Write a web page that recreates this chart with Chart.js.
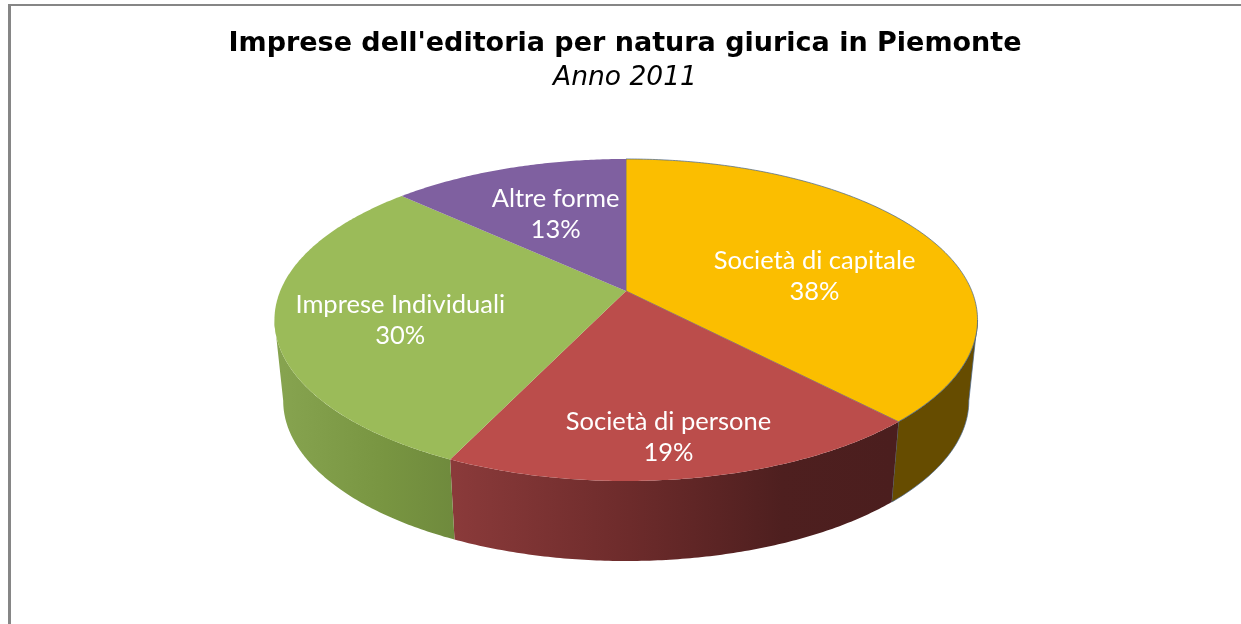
<!DOCTYPE html>
<html>
<head>
<meta charset="utf-8">
<title>Imprese dell'editoria per natura giurica in Piemonte</title>
<script src="https://cdn.jsdelivr.net/npm/chart.js@4"></script>
<style>
  html, body { margin: 0; padding: 0; background: #fff; }
  #wrap { width: 1241px; height: 624px; }
</style>
</head>
<body>
<div id="wrap"><canvas id="pie" width="1241" height="624"></canvas></div>
<script>
var categories = ["Società di capitale", "Società di persone", "Imprese Individuali", "Altre forme"];
var shares = [38, 19, 30, 13];

var topColors = ["#fbbe00", "#bb4d4b", "#9bbb59", "#7f60a0"];
// horizontal shading of the rim, one list of [position, colour] per slice
var wallStops = [
    [[0, "#664c00"], [1, "#664c00"]],
    [[0, "#8a3a3a"], [0.4, "#6d2b2b"], [0.75, "#4e1f1f"], [1, "#4b1e1e"]],
    [[0, "#86a34f"], [0.6, "#789541"], [1, "#6f8a3d"]],
    [[0, "#5f4878"], [1, "#5f4878"]]
];
var labelRadius = [0.6, 0.8, 0.65, 0.56];
var labelShiftX = [3, -8, 0, 0];
var labelShiftY = [19, 3, 10, -3];

// tilted disc: a small perspective term pushes the centre above the middle of the ellipse
var cx = 626, persp = -0.18;
var topRim = { cy: 291, ax: 345.8, ay: 155.8 };
var lowRim = { cy: 372, ax: 337.2, ay: 155 };
var firstVisible = Math.asin(-persp), lastVisible = Math.PI - firstVisible;

function project(angle, r, rim) {
    var u = Math.cos(angle) * r, v = Math.sin(angle) * r;
    var d = 1 + persp * v;
    return { x: cx + rim.ax * u / d, y: rim.cy + rim.ay * v / d };
}

function traceRim(ctx, from, to, rim, first) {
    var steps = Math.max(2, Math.ceil(Math.abs(to - from) / 0.01));
    for (var i = 0; i <= steps; i++) {
        var p = project(from + (to - from) * i / steps, 1, rim);
        if (i === 0 && first) ctx.moveTo(p.x, p.y); else ctx.lineTo(p.x, p.y);
    }
}

// every slice goes through the same projection instead of a plain circular arc
Chart.ArcElement.prototype.draw = function (ctx) {
    var o = this.options;
    var c = project(0, 0, topRim);
    ctx.save();
    ctx.beginPath();
    ctx.moveTo(c.x, c.y);
    traceRim(ctx, this.startAngle, this.endAngle, topRim, false);
    ctx.closePath();
    ctx.fillStyle = o.backgroundColor;
    ctx.fill();
    if (o.borderWidth) {
        ctx.lineWidth = o.borderWidth;
        ctx.strokeStyle = o.borderColor;
        ctx.stroke();
    }
    ctx.restore();
};

var frame = {
    id: "frame",
    beforeDraw: function (chart) {
        var ctx = chart.ctx;
        ctx.save();
        ctx.fillStyle = "#fff";
        ctx.fillRect(0, 0, chart.width, chart.height);
        ctx.fillStyle = "#868686";
        ctx.fillRect(8, 4, chart.width - 8, 2);
        ctx.fillRect(8, 4, 3, chart.height - 4);
        ctx.restore();
    }
};

var walls = {
    id: "walls",
    beforeDatasetsDraw: function (chart) {
        var ctx = chart.ctx;
        chart.getDatasetMeta(0).data.forEach(function (arc, i) {
            var a0 = Math.max(arc.startAngle, firstVisible);
            var a1 = Math.min(arc.endAngle, lastVisible);
            if (a1 <= a0) return;
            var p0 = project(a0, 1, lowRim), p1 = project(a1, 1, lowRim);
            var g = ctx.createLinearGradient(Math.min(p0.x, p1.x), 0, Math.max(p0.x, p1.x), 0);
            wallStops[i].forEach(function (s) { g.addColorStop(s[0], s[1]); });
            ctx.beginPath();
            traceRim(ctx, a0, a1, topRim, true);
            traceRim(ctx, a1, a0, lowRim, false);
            ctx.closePath();
            ctx.fillStyle = g;
            ctx.fill();
            if (arc.options.borderWidth) {
                ctx.lineWidth = arc.options.borderWidth;
                ctx.strokeStyle = arc.options.borderColor;
                ctx.stroke();
            }
        });
    }
};

var sliceLabels = {
    id: "sliceLabels",
    afterDatasetsDraw: function (chart) {
        var ctx = chart.ctx;
        ctx.save();
        ctx.fillStyle = "#fff";
        ctx.font = "25.5px Lato";
        ctx.textAlign = "center";
        ctx.textBaseline = "middle";
        chart.getDatasetMeta(0).data.forEach(function (arc, i) {
            var mid = (arc.startAngle + arc.endAngle) / 2;
            var p = project(mid, labelRadius[i], topRim);
            var x = p.x + labelShiftX[i], y = p.y + labelShiftY[i];
            ctx.fillText(categories[i], x, y - 16);
            ctx.fillText(shares[i] + "%", x, y + 15);
        });
        ctx.restore();
    }
};

document.addEventListener("DOMContentLoaded", function () {
    var ctx = document.getElementById("pie").getContext("2d");
    new Chart(ctx, {
        type: "pie",
        data: {
            labels: categories,
            datasets: [{
                data: shares,
                backgroundColor: topColors,
                borderColor: ["rgba(70,100,140,0.7)", "transparent", "transparent", "transparent"],
                borderWidth: [1, 0, 0, 0]
            }]
        },
        options: {
            responsive: false,
            animation: false,
            layout: { padding: { left: 9 } },
            plugins: {
                legend: { display: false },
                tooltip: { enabled: false },
                title: {
                    display: true,
                    text: "Imprese dell'editoria per natura giurica in Piemonte",
                    color: "#000",
                    font: { family: "'DejaVu Sans'", size: 27, weight: "bold" },
                    padding: { top: 28, bottom: 0 }
                },
                subtitle: {
                    display: true,
                    text: "Anno 2011",
                    color: "#000",
                    font: { family: "'DejaVu Sans'", size: 26.5, style: "italic" },
                    padding: { top: 2, bottom: 0 }
                }
            }
        },
        plugins: [frame, walls, sliceLabels]
    });
});
</script>
</body>
</html>
